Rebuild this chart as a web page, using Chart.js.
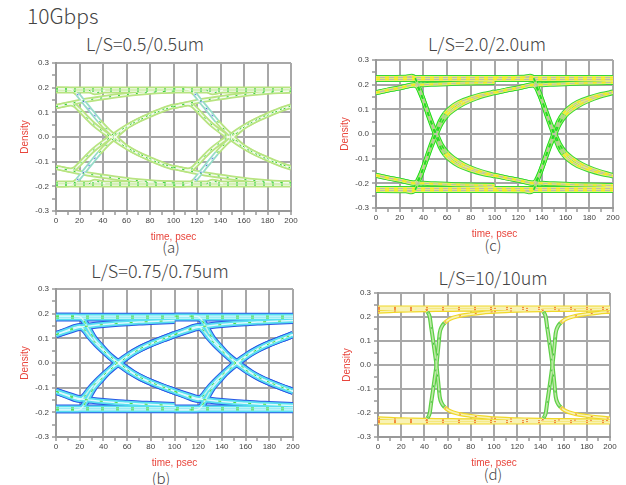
<!DOCTYPE html>
<html>
<head>
<meta charset="utf-8">
<script src="https://cdn.jsdelivr.net/npm/chart.js@4.4.1/dist/chart.umd.min.js"></script>
<style>
body { margin: 0; background: #fff; width: 626px; height: 485px; position: relative; overflow: hidden;
       font-family: "Noto Sans CJK JP", "Noto Sans", sans-serif; color: #444; }
.lbl { position: absolute; white-space: nowrap; line-height: 1; font-weight: 300; }
.ctr { transform: translateX(-50%); }
canvas { position: absolute; }
</style>
</head>
<body>
<div class="lbl" style="left:27px;top:5px;font-size:21px">10Gbps</div>
<div class="lbl ctr" style="left:145px;top:34px;font-size:18px">L/S=0.5/0.5um</div>
<div class="lbl ctr" style="left:487px;top:34px;font-size:18px">L/S=2.0/2.0um</div>
<div class="lbl ctr" style="left:160px;top:261px;font-size:18px">L/S=0.75/0.75um</div>
<div class="lbl ctr" style="left:493px;top:268px;font-size:18px">L/S=10/10um</div>
<div class="lbl ctr" style="left:171px;top:239px;font-size:15px">(a)</div>
<div class="lbl ctr" style="left:493px;top:237px;font-size:15px">(c)</div>
<div class="lbl ctr" style="left:161px;top:470px;font-size:15px">(b)</div>
<div class="lbl ctr" style="left:493px;top:466px;font-size:15px">(d)</div>

<canvas id="chartA"></canvas>
<canvas id="chartB"></canvas>
<canvas id="chartC"></canvas>
<canvas id="chartD"></canvas>

<script>
// two unit intervals (100 ps each) shown in every eye
const uiStarts = [0, 100];

// (a) L/S=0.5/0.5um
const aLevels = [0.195, 0.186, -0.186, -0.195];
const aTailT = [0, 10, 20, 30, 40, 50, 60, 70, 80, 90, 100];
const aRiseTail = [0.123, 0.134, 0.144, 0.152, 0.159, 0.166, 0.172, 0.177, 0.181, 0.184, 0.186];
const aFallTail = [-0.123, -0.134, -0.144, -0.152, -0.159, -0.166, -0.172, -0.177, -0.181, -0.184, -0.186];
const aEdgeT = [0, 10, 14, 18, 22, 26, 30, 37, 44, 50, 55, 60, 70, 80, 90, 100];
const aFallHigh = [0.195, 0.194, 0.19, 0.175, 0.152, 0.128, 0.105, 0.064, 0.028, 0.002, -0.02, -0.04, -0.067, -0.088, -0.108, -0.124];
const aRiseLow = [-0.195, -0.194, -0.19, -0.175, -0.152, -0.128, -0.105, -0.064, -0.028, -0.002, 0.02, 0.04, 0.067, 0.088, 0.108, 0.124];
const aMidT = [0, 8, 12, 16, 20, 26, 32, 40, 48, 54, 60, 70, 80, 90, 100];
const aFallMid = [0.123, 0.131, 0.134, 0.128, 0.11, 0.08, 0.052, 0.022, -0.004, -0.024, -0.042, -0.068, -0.09, -0.11, -0.126];
const aRiseMid = [-0.123, -0.131, -0.134, -0.128, -0.11, -0.08, -0.052, -0.022, 0.004, 0.024, 0.042, 0.068, 0.09, 0.11, 0.126];
const aBumpT = [28, 33, 37, 42];
const aBumpTop = [0.19, 0.179, 0.182, 0.19];
const aBumpBot = [-0.19, -0.179, -0.182, -0.19];

// (b) L/S=0.75/0.75um
const bLevels = [0.19, 0.182, -0.182, -0.19];
const bTailT = [0, 10, 20, 30, 40, 50, 60, 70, 80, 90, 100];
const bRiseTail = [0.115, 0.13, 0.145, 0.151, 0.156, 0.16, 0.163, 0.166, 0.168, 0.17, 0.172];
const bFallTail = [-0.115, -0.13, -0.145, -0.151, -0.156, -0.16, -0.163, -0.166, -0.168, -0.17, -0.172];
const bEdgeT = [0, 16, 20, 23, 27, 32, 37, 43, 48, 53, 58, 65, 72, 80, 90, 100];
const bFallHigh = [0.19, 0.19, 0.188, 0.175, 0.141, 0.1, 0.072, 0.04, 0.018, 0, -0.018, -0.041, -0.06, -0.078, -0.097, -0.115];
const bRiseLow = [-0.19, -0.19, -0.188, -0.175, -0.141, -0.1, -0.072, -0.04, -0.018, 0, 0.018, 0.041, 0.06, 0.078, 0.097, 0.115];
const bMidT = [0, 10, 16, 20, 24, 28, 34, 40, 46, 51, 56, 62, 70, 80, 90, 100];
const bFallMid = [0.115, 0.133, 0.144, 0.148, 0.135, 0.11, 0.078, 0.05, 0.024, 0.003, -0.014, -0.034, -0.056, -0.078, -0.097, -0.115];
const bRiseMid = [-0.115, -0.133, -0.144, -0.148, -0.135, -0.11, -0.078, -0.05, -0.024, -0.003, 0.014, 0.034, 0.056, 0.078, 0.097, 0.115];

// (c) L/S=2.0/2.0um
const cLevels = [0.229, 0.221, -0.221, -0.229];
const cTailT = [0, 10, 20, 30, 40, 50, 60, 70, 80, 90, 100];
const cRiseTail = [0.168, 0.178, 0.187, 0.198, 0.2, 0.202, 0.204, 0.206, 0.207, 0.208, 0.209];
const cFallTail = [-0.168, -0.178, -0.187, -0.198, -0.2, -0.202, -0.204, -0.206, -0.207, -0.208, -0.209];
const cEdgeT = [0, 25, 30, 33, 36, 40, 45, 50, 54, 58, 63, 70, 80, 90, 100];
const cFallHigh = [0.229, 0.23, 0.234, 0.226, 0.19, 0.138, 0.065, 0.0, -0.05, -0.082, -0.106, -0.128, -0.146, -0.16, -0.17];
const cRiseLow = [-0.229, -0.23, -0.234, -0.226, -0.19, -0.138, -0.065, 0.0, 0.05, 0.082, 0.106, 0.128, 0.146, 0.16, 0.17];
const cMidT = [0, 10, 20, 28, 32, 35, 38, 42, 47, 51, 55, 60, 66, 74, 84, 100];
const cFallMid = [0.167, 0.178, 0.187, 0.196, 0.2, 0.19, 0.16, 0.11, 0.045, 0.0, -0.042, -0.076, -0.1, -0.124, -0.145, -0.168];
const cRiseMid = [-0.167, -0.178, -0.187, -0.196, -0.2, -0.19, -0.16, -0.11, -0.045, 0.0, 0.042, 0.076, 0.1, 0.124, 0.145, 0.168];

// (d) L/S=10/10um
const dLevels = [0.24, 0.232, -0.232, -0.24];
const dTailT = [0, 10, 20, 30, 40, 50, 60, 70, 80, 90, 100];
const dRiseTail = [0.222, 0.224, 0.226, 0.227, 0.228, 0.229, 0.229, 0.23, 0.23, 0.231, 0.231];
const dFallTail = [-0.222, -0.224, -0.226, -0.227, -0.228, -0.229, -0.229, -0.23, -0.23, -0.231, -0.231];
const dEdgeT = [0, 38, 40.3, 42.5, 44.6, 46, 47.5, 49, 50.4, 52, 53.2, 55, 57.5, 62, 70, 80, 90, 100];
const dFallHigh = [0.236, 0.236, 0.235, 0.222, 0.2, 0.152, 0.103, 0.05, 0, -0.075, -0.133, -0.16, -0.176, -0.192, -0.204, -0.212, -0.218, -0.222];
const dRiseLow = [-0.236, -0.236, -0.235, -0.222, -0.2, -0.152, -0.103, -0.05, 0, 0.075, 0.133, 0.16, 0.176, 0.192, 0.204, 0.212, 0.218, 0.222];

function pts(times, vals, shift) {
    return times.map((t, i) => ({x: t + shift, y: vals[i]}));
}

function pixSlope(c) {
    const dx = Math.abs(c.p1.x - c.p0.x) || 0.001;
    return Math.abs(c.p1.y - c.p0.y) / dx;
}

function buildDatasets(p) {
    const paths = [];
    p.levels.forEach(v => paths.push([{x: 0, y: v}, {x: 200, y: v}]));
    uiStarts.forEach(u => {
        paths.push(pts(p.tailT, p.riseTail, u), pts(p.tailT, p.fallTail, u));
        paths.push(pts(p.edgeT, p.fallHigh, u), pts(p.edgeT, p.riseLow, u));
        if (p.midT) paths.push(pts(p.midT, p.fallMid, u), pts(p.midT, p.riseMid, u));
        if (p.bumpT) paths.push(pts(p.bumpT, p.bumpTop, u), pts(p.bumpT, p.bumpBot, u));
    });
    const sets = [];
    p.layers.forEach(l => {
        paths.forEach(d => {
            sets.push({
                data: d,
                borderColor: l.flat,
                borderWidth: l.w,
                borderDash: l.dash || [],
                borderJoinStyle: 'round',
                pointRadius: 0,
                fill: false,
                cubicInterpolationMode: 'monotone',
                segment: {
                    borderColor: c => pixSlope(c) > p.steep ? l.steep : l.flat
                }
            });
        });
    });
    // first dataset ends up on top
    return sets.reverse();
}

function makePanel(id, box, p) {
    const cv = document.getElementById(id);
    const w = box.right - box.left + 56 + 9;
    const h = box.bottom - box.top + 8 + 34;
    cv.width = w;
    cv.height = h;
    cv.style.left = (box.left - 56) + 'px';
    cv.style.top = (box.top - 8) + 'px';
    cv.style.width = w + 'px';
    cv.style.height = h + 'px';

    const tickFont = {family: 'Liberation Sans', size: 8};
    const titleFont = {family: 'Liberation Sans', size: 10};
    new Chart(cv, {
        type: 'line',
        data: {datasets: buildDatasets(p)},
        options: {
            responsive: false,
            animation: false,
            events: [],
            layout: {padding: {top: 8, right: 9, left: 0, bottom: 0}},
            plugins: {legend: {display: false}, tooltip: {enabled: false}},
            scales: {
                x: {
                    type: 'linear', min: 0, max: 200,
                    afterFit: s => { s.height = 34; },
                    ticks: {
                        stepSize: 10, autoSkip: false, maxRotation: 0, padding: 1,
                        color: '#444', font: tickFont,
                        callback: (v, i) => (i % 2 === 0 ? String(v) : '')
                    },
                    grid: {
                        color: c => (c.index % 2 === 0 ? '#a8a8a8' : 'rgba(0,0,0,0)'),
                        lineWidth: 2, tickColor: '#666', tickWidth: 1, tickLength: 4
                    },
                    border: {color: '#999', width: 2},
                    title: {display: true, text: 'time, psec', color: '#e8453c', font: titleFont,
                            padding: {top: 0, bottom: 2}}
                },
                y: {
                    type: 'linear', min: -0.3, max: 0.3,
                    afterFit: s => { s.width = 56; },
                    ticks: {
                        stepSize: 0.05, autoSkip: false, padding: 3,
                        color: '#444', font: tickFont,
                        callback: (v, i) => (i % 2 === 0 ? (Math.abs(v) < 1e-9 ? '0.0' : v.toFixed(1)) : '')
                    },
                    grid: {
                        color: c => (c.index % 2 === 0 ? '#a8a8a8' : 'rgba(0,0,0,0)'),
                        lineWidth: 2, tickColor: '#666', tickWidth: 1, tickLength: 4
                    },
                    border: {color: '#999', width: 2},
                    title: {display: true, text: 'Density', color: '#e8453c', font: titleFont,
                            padding: {top: 19, bottom: 0}}
                }
            }
        }
    });
}

makePanel('chartA', {left: 56, top: 63, right: 291, bottom: 211}, {
    levels: aLevels, tailT: aTailT, riseTail: aRiseTail, fallTail: aFallTail,
    edgeT: aEdgeT, fallHigh: aFallHigh, riseLow: aRiseLow,
    midT: aMidT, fallMid: aFallMid, riseMid: aRiseMid,
    bumpT: aBumpT, bumpTop: aBumpTop, bumpBot: aBumpBot,
    steep: 1.2,
    layers: [
        {flat: '#b8e480', steep: '#96dcc8', w: 5},
        {flat: '#f4fbf0', steep: '#ffffff', w: 1.4},
        {flat: '#3cd23c', steep: '#3a62e0', w: 1, dash: [2, 7]}
    ]
});

makePanel('chartB', {left: 56, top: 289, right: 293, bottom: 437}, {
    levels: bLevels, tailT: bTailT, riseTail: bRiseTail, fallTail: bFallTail,
    edgeT: bEdgeT, fallHigh: bFallHigh, riseLow: bRiseLow,
    midT: bMidT, fallMid: bFallMid, riseMid: bRiseMid,
    steep: 1.2,
    layers: [
        {flat: '#2a58e6', steep: '#2a58e6', w: 7},
        {flat: '#58dff0', steep: '#58dff0', w: 5},
        {flat: '#dcfbfb', steep: '#c8f4e8', w: 1.4},
        {flat: '#44dd44', steep: '#44dd44', w: 1, dash: [3, 12]}
    ]
});

makePanel('chartC', {left: 376, top: 60, right: 613, bottom: 208}, {
    levels: cLevels, tailT: cTailT, riseTail: cRiseTail, fallTail: cFallTail,
    edgeT: cEdgeT, fallHigh: cFallHigh, riseLow: cRiseLow,
    midT: cMidT, fallMid: cFallMid, riseMid: cRiseMid,
    steep: 1.3,
    layers: [
        {flat: '#36d836', steep: '#22dd22', w: 5},
        {flat: '#e6ee78', steep: '#a6ec70', w: 3},
        {flat: '#bdbdae', steep: '#bdbdae', w: 1},
        {flat: '#f2ee20', steep: '#22dd22', w: 1.5, dash: [4, 5]}
    ]
});

makePanel('chartD', {left: 378, top: 293, right: 610, bottom: 437}, {
    levels: dLevels, tailT: dTailT, riseTail: dRiseTail, fallTail: dFallTail,
    edgeT: dEdgeT, fallHigh: dFallHigh, riseLow: dRiseLow,
    steep: 1.3,
    layers: [
        {flat: '#f0d828', steep: '#5cd044', w: 4},
        {flat: '#f8f2b4', steep: '#bfe8a8', w: 1.6},
        {flat: '#f08030', steep: '#40c040', w: 1, dash: [2, 14]}
    ]
});
</script>
</body>
</html>
